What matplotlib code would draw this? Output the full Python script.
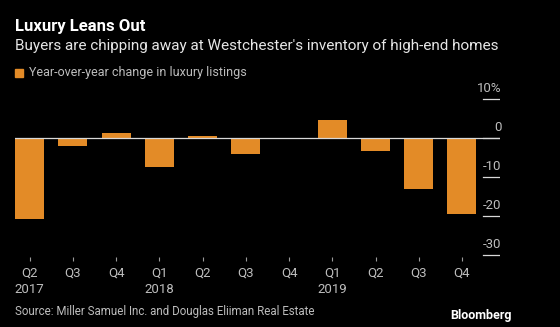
import matplotlib
matplotlib.use("Agg")
import matplotlib.pyplot as plt

quarters = ["Q2", "Q3", "Q4", "Q1", "Q2", "Q3", "Q4", "Q1", "Q2", "Q3", "Q4"]
years = ["2017", "", "", "2018", "", "", "", "2019", "", "", ""]
values = [-20.8, -2.1, 1.3, -7.4, 0.6, -4.1, -0.3, 4.6, -3.4, -13.0, -19.6]
yticks = [10, 0, -10, -20, -30]
ytick_labels = ["10%", "0", "-10", "-20", "-30"]

plt.rcParams["font.family"] = ["Roboto", "DejaVu Sans"]

BG = "#000000"
ORANGE = "#E38B27"
GREY = "#BDBDBD"

fig = plt.figure(figsize=(5.6, 3.27), dpi=100, facecolor=BG)
ax = fig.add_axes([15/560, (327-257)/327, 485/560, 160/327])
ax.set_facecolor(BG)

x = list(range(len(values)))
ax.bar(x, values, width=0.67, color=ORANGE, zorder=2)
ax.axhline(0, color="#D9D9D9", lw=0.9, zorder=3)

ax.set_xlim(-0.34, 10.88)
ax.set_ylim(-30.5, 10.5)
for s in ax.spines.values():
    s.set_visible(False)
ax.set_yticks([])
ax.set_xticks(x)
ax.set_xticklabels([q + ("\n" + y if y else "") for q, y in zip(quarters, years)],
                   color=GREY, fontsize=9.5, va="top", linespacing=1.3)
ax.tick_params(axis="x", colors=GREY, length=3, width=0.8, pad=4, labelcolor=GREY)
for t in ax.get_xticklines():
    t.set_markeredgecolor("#9A9A9A")

x0 = (483-15)/485
for v, lab in zip(yticks, ytick_labels):
    ax.axhline(v, xmin=x0, xmax=1.0, color="#D9D9D9", lw=0.9, zorder=3)
    ax.annotate(lab, xy=(1.0, v), xycoords=("axes fraction", "data"),
                xytext=(1, 3), textcoords="offset points",
                ha="right", va="bottom", color=GREY, fontsize=9.5)

fig.text(15/560, 1-27/327, "Luxury Leans Out", color="white", fontsize=12,
         fontweight="bold", va="center", ha="left")
fig.text(15/560, 1-46/327,
         "Buyers are chipping away at Westchester's inventory of high-end homes",
         color="#E6E6E6", fontsize=11, va="center", ha="left")
fig.patches.append(plt.Rectangle((15/560, 1-77/327), 8/560, 8/327,
                                 transform=fig.transFigure, color=ORANGE))
fig.text(29/560, 1-72.5/327, "Year-over-year change in luxury listings",
         color=GREY, fontsize=9, va="center", ha="left")
fig.text(15/560, 1-311/327, "Source: Miller Samuel Inc. and Douglas Eliiman Real Estate",
         color=GREY, fontsize=8.3, va="center", ha="left")
fig.text(512/560, 1-316/327, "Bloomberg", color="white", fontsize=9,
         fontweight="bold", va="center", ha="right")

fig.savefig("out.png", dpi=100, facecolor=BG)
